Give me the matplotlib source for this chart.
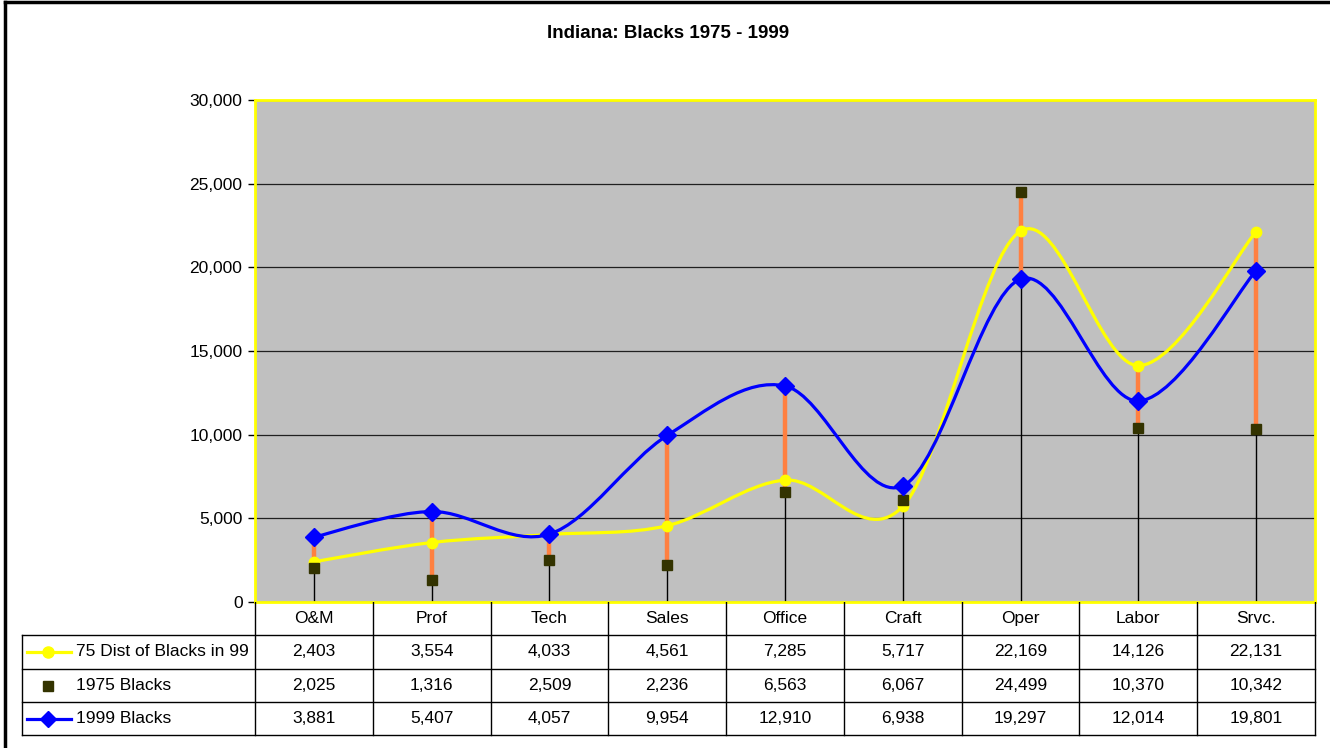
import numpy as np
import matplotlib.pyplot as plt
from matplotlib.path import Path
from matplotlib.patches import PathPatch

plt.rcParams['font.family'] = ['Liberation Sans', 'DejaVu Sans']

categorias = ['O&M', 'Prof', 'Tech', 'Sales', 'Office', 'Craft', 'Oper', 'Labor', 'Srvc.']
dist_75 = [2403, 3554, 4033, 4561, 7285, 5717, 22169, 14126, 22131]
negros_1975 = [2025, 1316, 2509, 2236, 6563, 6067, 24499, 10370, 10342]
negros_1999 = [3881, 5407, 4057, 9954, 12910, 6938, 19297, 12014, 19801]
nomes = ['75 Dist of Blacks in 99', '1975 Blacks', '1999 Blacks']

AMARELO = '#FFFF00'
AZUL = '#0000FF'
QUADRADO = '#333300'
LARANJA = '#FF8040'
CINZA = '#C0C0C0'

W, H = 1330, 748
fig = plt.figure(figsize=(W / 100, H / 100), dpi=100)


def caixa(x0, y0, x1, y1):
    """converte pixels (topo-esquerda) para fração da figura"""
    return [x0 / W, 1 - y1 / H, (x1 - x0) / W, (y1 - y0) / H]


def curva_suave(ax, xs, ys, **kw):
    """curva tipo Excel (Bezier com tangentes Catmull-Rom)"""
    pts = np.column_stack([xs, ys]).astype(float)
    n = len(pts)
    verts = [pts[0]]
    codes = [Path.MOVETO]
    for i in range(n - 1):
        p0 = pts[i - 1] if i > 0 else pts[i]
        p1 = pts[i]
        p2 = pts[i + 1]
        p3 = pts[i + 2] if i + 2 < n else pts[i + 1]
        c1 = p1 + (p2 - p0) / 6.0
        c2 = p2 - (p3 - p1) / 6.0
        verts += [c1, c2, p2]
        codes += [Path.CURVE4] * 3
    ax.add_patch(PathPatch(Path(verts, codes), fill=False, **kw))


x = np.arange(len(categorias))

# area do grafico
ax = fig.add_axes(caixa(255, 100, 1315, 602))
ax.set_facecolor(CINZA)
ax.set_xlim(-0.5, len(categorias) - 0.5)
ax.set_ylim(0, 30000)
ax.set_yticks(range(0, 30001, 5000))
ax.set_yticklabels([f'{v:,}' for v in range(0, 30001, 5000)])
ax.set_xticks([])
ax.tick_params(axis='y', direction='out', length=5, width=1, labelsize=12.5, pad=4)
for s in ax.spines.values():
    s.set_color(AMARELO)
    s.set_linewidth(2)
ax.yaxis.grid(True, color='#202020', linewidth=0.9)
ax.set_axisbelow(True)
ax.axvline(-0.5, color='black', linewidth=0.8, zorder=2)

altos = np.maximum.reduce([dist_75, negros_1975, negros_1999])
baixos = np.minimum.reduce([dist_75, negros_1975, negros_1999])
ax.vlines(x, 0, altos, color='black', linewidth=1, zorder=2)
ax.vlines(x, baixos, altos, color=LARANJA, linewidth=3.2, zorder=3)

curva_suave(ax, x, dist_75, edgecolor=AMARELO, linewidth=2.3, zorder=4)
curva_suave(ax, x, negros_1999, edgecolor=AZUL, linewidth=2.3, zorder=5)
ax.plot(x, dist_75, 'o', color=AMARELO, markersize=7.5, zorder=6)
ax.plot(x, negros_1975, 's', color=QUADRADO, markersize=7.5, zorder=6)
ax.plot(x, negros_1999, 'D', color=AZUL, markersize=9, zorder=7)

fig.text(668 / W, 1 - 33 / H, 'Indiana: Blacks 1975 - 1999', ha='center', va='center',
         fontsize=13.5, fontweight='bold')

# tabela de dados
tab = fig.add_axes(caixa(0, 602, W, 748))
tab.set_xlim(0, W)
tab.set_ylim(748, 602)
tab.axis('off')

esq, x_ini, x_fim = 22, 255, 1315
larg = (x_fim - x_ini) / len(categorias)
linhas_y = [602, 635, 669, 702, 735]
lw = 1

for y in linhas_y[1:]:
    tab.plot([esq, x_fim], [y, y], color='black', linewidth=lw)
for i in range(len(categorias) + 1):
    xv = x_ini + i * larg
    tab.plot([xv, xv], [602, 735], color='black', linewidth=lw)
tab.plot([esq, esq], [635, 735], color='black', linewidth=lw)

centros_y = [(linhas_y[k] + linhas_y[k + 1]) / 2 for k in range(4)]
for i, c in enumerate(categorias):
    xc = x_ini + (i + 0.5) * larg
    tab.text(xc, centros_y[0], c, ha='center', va='center', fontsize=12.5)
    for k, serie in enumerate([dist_75, negros_1975, negros_1999]):
        tab.text(xc, centros_y[k + 1], f'{serie[i]:,}', ha='center', va='center', fontsize=12.5)

# legendas da tabela
tab.plot([27, 71], [centros_y[1]] * 2, color=AMARELO, linewidth=2.3)
tab.plot([48], [centros_y[1]], 'o', color=AMARELO, markersize=8)
tab.plot([48], [centros_y[2]], 's', color=QUADRADO, markersize=7.5)
tab.plot([27, 71], [centros_y[3]] * 2, color=AZUL, linewidth=2.3)
tab.plot([48], [centros_y[3]], 'D', color=AZUL, markersize=8)
for k, nome in enumerate(nomes):
    tab.text(76, centros_y[k + 1], nome, ha='left', va='center', fontsize=12.5)

# borda externa
fig.add_artist(plt.Line2D([5 / W, 5 / W], [0, 1 - 2 / H], color='black', linewidth=2.5))
fig.add_artist(plt.Line2D([5 / W, 1], [1 - 2 / H, 1 - 2 / H], color='black', linewidth=2.5))

fig.savefig('out.png', dpi=100)
plt.close()
